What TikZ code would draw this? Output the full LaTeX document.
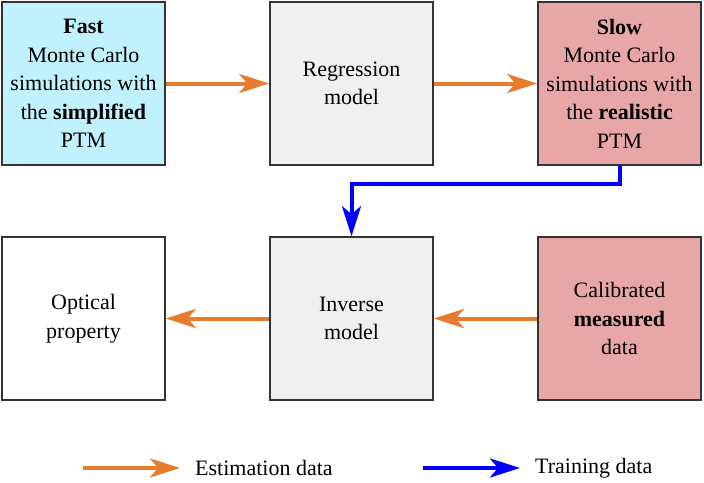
\documentclass[tikz,border=0pt]{standalone}
\usepackage{fontspec}
\setmainfont{Liberation Serif}
\usetikzlibrary{arrows.meta}

\definecolor{fastcol}{HTML}{C0F1FC}
\definecolor{slowcol}{HTML}{E8A6A6}
\definecolor{modelcol}{HTML}{F0F0F0}
\definecolor{estcol}{HTML}{E87C2E}
\definecolor{traincol}{HTML}{0000FF}
\definecolor{edgecol}{HTML}{333333}

\begin{document}
\begin{tikzpicture}[x=1pt,y=-1pt,
	box/.style={shape=rectangle,draw=edgecol,line width=1.6pt,minimum width=163pt,minimum height=163pt,
		align=center,font=\fontsize{22}{28.5}\selectfont,inner sep=0pt},
	estarrow/.style={draw=estcol,line width=4pt,-{Stealth[length=30pt,width=19pt,inset=8pt]}},
	trainarrow/.style={draw=traincol,line width=4pt,-{Stealth[length=30pt,width=19pt,inset=8pt]}},
	legendtext/.style={anchor=west,inner sep=0pt,font=\fontsize{22}{26}\selectfont}]
	
	\useasboundingbox (0,0) rectangle (704,482);
	
	\node[box,fill=fastcol]  (fast)     at (83.5, 83.5)   {\textbf{Fast}\\Monte Carlo\\simulations with\\the \textbf{simplified}\\PTM};
	\node[box,fill=modelcol] (regress)  at (351.5, 83.5)  {Regression\\model};
	\node[box,fill=slowcol]  (slow)     at (619.5, 83.5)  {\textbf{Slow}\\Monte Carlo\\simulations with\\the \textbf{realistic}\\PTM};
	\node[box,fill=white]    (optical)  at (83.5, 318.5)  {Optical\\property};
	\node[box,fill=modelcol] (inverse)  at (351.5, 318.5) {Inverse\\model};
	\node[box,fill=slowcol]  (measured) at (619.5, 318.5) {Calibrated\\\textbf{measured}\\data};
	
	\draw[estarrow] (fast) -- (regress);
	\draw[estarrow] (regress) -- (slow);
	\draw[estarrow] (measured) -- (inverse);
	\draw[estarrow] (inverse) -- (optical);
	\draw[trainarrow] (slow.south) -- ++(0,18) -| (inverse.north);
	
	% legend
	\coordinate (est1) at (83, 468);
	\coordinate (est2) at (180, 468);
	\node[legendtext] (esttext) at (195, 468) {Estimation data};
	\coordinate (train1) at (423, 468);
	\coordinate (train2) at (520, 468);
	\node[legendtext] (traintext) at (535, 468) {Training data};
	\draw[estarrow] (est1) -- (est2);
	\draw[trainarrow] (train1) -- (train2);
	
\end{tikzpicture}
\end{document}
